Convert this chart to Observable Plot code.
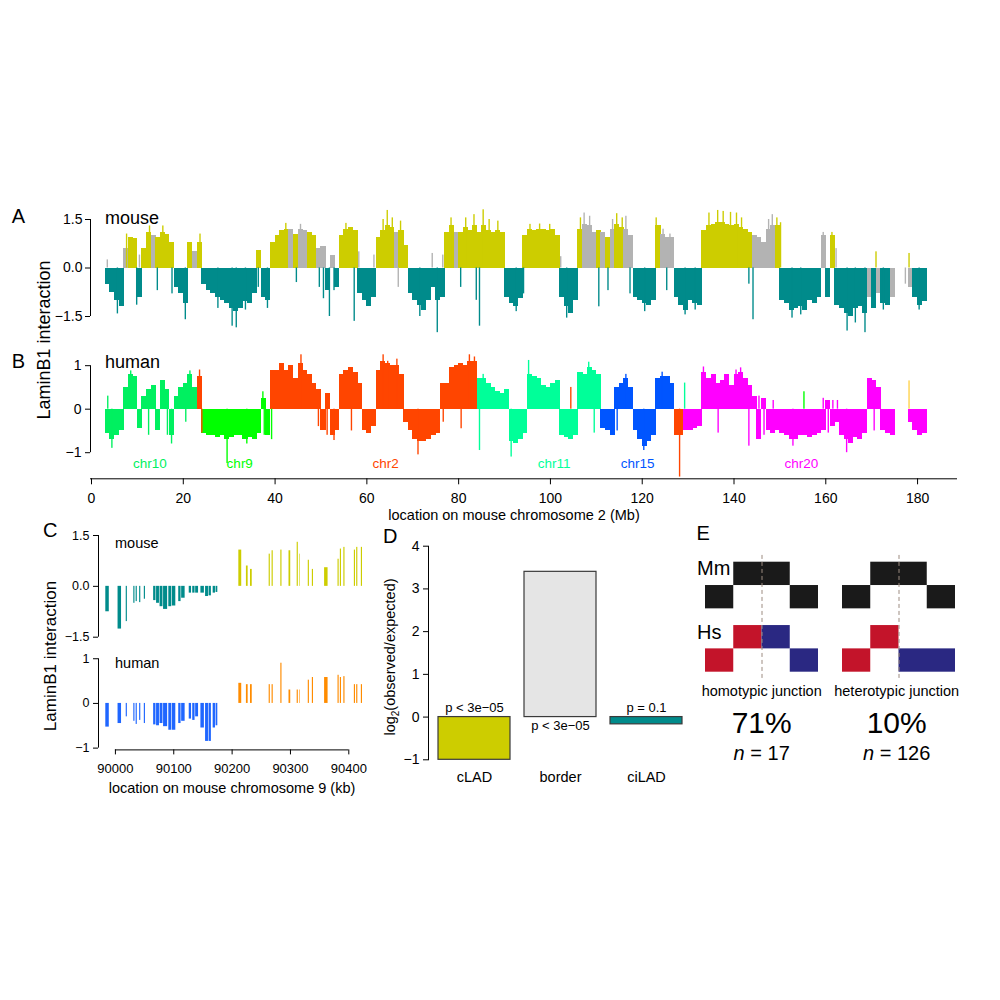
<!DOCTYPE html>
<html><head><meta charset="utf-8">
<script src="https://cdn.jsdelivr.net/npm/d3@7"></script>
<script src="https://cdn.jsdelivr.net/npm/@observablehq/plot@0.6"></script>
<style>
body{margin:0;background:#fff;}
#fig{position:relative;width:1000px;height:1000px;background:#fff;overflow:hidden}
#fig svg{position:absolute;background:transparent;overflow:visible}
</style></head><body><div id="fig"></div>
<script>
// ---------------- DATA ----------------
// Panel A/B: 1-Mb bins along mouse chr2 starting at 3 Mb
const binFirstMb = 3;
const mouseVal = [
 -0.5,-0.75,-1.0,-1.2,0.6,0.95,0.9,-0.9,0.6,1.1,
 1.0,0.95,1.1,1.05,0.8,-0.6,-0.8,-1.1,0.8,0.5,
 0.8,-0.5,-0.7,-0.8,-0.9,-1.0,-1.1,-1.25,-1.35,-1.25,
 -1.05,-1.1,-0.8,0.55,-0.9,-1.0,0.8,1.0,1.15,1.2,
 1.2,1.05,1.2,1.15,1.1,1.0,0.6,0.65,-0.7,0.4,
 -0.6,1.0,1.2,1.25,1.15,-0.8,-1.0,-1.2,-0.9,0.95,
 1.15,1.3,1.25,1.1,1.15,0.7,-0.8,-1.0,-1.15,-1.3,
 -1.0,-0.6,-1.0,-0.9,1.1,1.3,1.1,1.1,1.25,1.15,
 1.3,1.1,1.3,1.15,1.1,1.15,1.1,-0.9,-1.1,-1.2,
 -0.95,1.0,1.2,1.15,1.2,1.2,1.15,1.2,1.0,-0.9,
 -1.2,-1.4,-1.0,1.2,1.35,1.3,1.1,1.15,1.1,0.95,
 1.2,1.35,1.25,1.2,1.0,-0.9,-1.0,-1.1,-1.15,-1.0,
 1.3,1.05,0.95,0.95,-0.9,-1.15,-1.3,-1.0,-1.1,-1.15,
 1.15,1.3,1.35,1.4,1.4,1.35,1.3,1.35,1.25,1.2,
 1.1,1.0,0.95,0.8,1.2,1.3,1.3,-1.0,-1.1,-1.3,
 -1.25,-1.2,-1.3,-1.0,-1.1,-0.9,1.0,-0.9,1.0,-1.15,
 -1.25,-1.4,-1.5,-1.25,-1.2,-1.4,-0.9,-1.25,-0.8,-1.1,
 -1.15,-0.9,null,null,null,-0.6,-0.9,-1.15,-1.05
];
// c = constitutive LAD (yellow), f = facultative (grey), i = inter-LAD (teal)
const mouseCls = ("iiiifccicc"+"fcccciiicf"+"ciiiiiiiii"+"iiiciicccc"+"fcffccffif"+
 "icccciiiic"+"cccfcciiii"+"iiiiccfccc"+"ccccccciii"+"icccccccci"+"iiicfffcfc"+
 "fccffiiiii"+"cfffiiiiii"+"cccccccccc"+"cfffffciii"+"iiiiiifici"+"iiiiiififi"+"if---fiii").split("");
// narrow individual probes sticking out of the bins: [Mb, value, class]
const mouseSpikes = [
 [3.4,0.25,"f"],[5.6,-1.42,"i"],[7.6,1.05,"c"],[9.8,-1.15,"i"],[10.4,0.4,"f"],[12.6,1.3,"c"],[14.3,-0.7,"i"],[15.5,1.3,"c"],
 [17.5,-0.8,"i"],[20.4,-1.6,"i"],[23.6,1.05,"c"],[27.5,-1.25,"i"],[30.6,-1.8,"i"],[31.5,-1.85,"i"],[33.5,-1.3,"i"],[36.3,-0.6,"i"],
 [38.3,-1.25,"i"],[42.3,1.38,"c"],[44.6,-0.45,"i"],[45.5,1.35,"f"],[49.6,-0.6,"i"],[50.5,-0.95,"i"],[51.8,-1.5,"i"],[52.8,-0.7,"i"],
 [55.4,1.38,"c"],[57.2,-1.65,"i"],[58.2,0.5,"f"],[61.5,0.4,"f"],[63.5,1.5,"c"],[64.4,1.78,"c"],[65.5,1.55,"c"],[66.8,-0.6,"f"],
 [67.3,1.45,"c"],[71.5,-1.5,"i"],[74.2,0.45,"f"],[75.3,-2.0,"i"],[76.5,0.4,"f"],[78.3,1.55,"c"],[80.4,-0.6,"i"],[81.5,1.55,"c"],
 [83.3,1.65,"c"],[83.8,-1.0,"i"],[84.5,-1.8,"i"],[85.3,1.8,"c"],[86.6,1.5,"c"],[88.5,1.45,"c"],[92.5,-1.35,"i"],[94.1,-0.8,"i"],
 [95.5,1.35,"c"],[97.6,1.36,"c"],[99.8,1.35,"c"],[102.2,0.35,"f"],[103.5,-1.55,"i"],[106.5,1.55,"c"],[107.3,1.7,"f"],[108.5,1.6,"f"],
 [110.5,-1.2,"i"],[112.5,-0.7,"i"],[113.5,1.5,"f"],[114.4,1.68,"c"],[115.6,1.55,"c"],[116.4,1.6,"f"],[117.3,-0.8,"i"],[120.5,-1.35,"i"],
 [123.0,1.55,"c"],[124.5,1.2,"f"],[125.3,-0.7,"i"],[126.0,1.05,"f"],[129.3,-1.45,"i"],[131.5,-1.3,"i"],[134.5,1.7,"c"],[136.4,1.78,"c"],
 [137.6,1.75,"c"],[139.2,1.72,"c"],[140.5,1.7,"c"],[141.6,1.55,"c"],[143.2,-0.5,"i"],[144.1,-1.6,"i"],[147.5,1.5,"f"],[148.3,1.65,"f"],
 [149.3,1.55,"c"],[150.1,1.4,"c"],[152.6,-1.55,"i"],[154.5,-1.45,"i"],[159.4,1.1,"f"],[161.3,1.1,"c"],[162.2,0.6,"f"],[164.6,-1.95,"i"],
 [166.4,-1.7,"i"],[168.5,-2.0,"i"],[170.9,0.5,"c"],[172.5,-1.3,"i"],[177.3,-0.5,"f"],[178.1,0.45,"c"],[180.3,-1.3,"i"]
];

const humanVal = [
 -0.55,-0.7,-0.6,-0.5,0.5,0.8,0.75,-0.45,0.3,0.45,
 0.55,-0.5,0.65,0.45,-0.6,0.3,0.5,0.6,0.8,0.5,
 0.75,-0.55,-0.6,-0.6,-0.65,-0.6,-0.7,-0.65,-0.6,-0.6,
 -0.7,-0.65,-0.7,-0.55,0.25,-0.6,0.9,0.9,1.05,0.9,
 1.0,0.7,1.05,0.9,0.8,0.6,0.45,-0.5,0.35,-0.6,
 -0.5,0.8,0.9,0.95,0.85,0.6,-0.5,-0.55,-0.4,0.9,
 1.1,1.05,1.0,1.0,0.8,-0.3,-0.5,-0.7,-0.75,-0.75,
 -0.7,-0.6,-0.55,0.6,0.6,0.95,1.0,1.05,1.0,1.1,
 1.1,0.7,0.7,0.6,0.5,0.4,0.35,0.45,-0.75,-0.8,
 -0.7,-0.55,0.8,0.75,0.7,0.55,0.5,0.6,0.65,-0.6,
 -0.65,-0.7,-0.6,0.85,0.8,0.95,0.9,0.8,-0.45,-0.5,
 -0.6,0.5,0.6,0.7,0.5,-0.5,-0.7,-0.85,-0.75,-0.6,
 0.7,0.75,0.75,0.6,-0.6,-0.6,-0.5,-0.5,-0.45,-0.4,
 0.85,0.7,0.8,0.6,0.65,0.8,0.55,0.8,0.85,0.7,
 0.55,0.3,-0.7,0.25,-0.5,-0.55,-0.5,-0.55,-0.6,-0.7,
 -0.7,-0.6,-0.6,-0.65,-0.6,-0.55,-0.5,0.2,-0.4,-0.3,
 -0.6,-0.7,-0.8,-0.65,-0.7,-0.55,0.7,0.65,0.5,-0.5,
 -0.55,-0.6,null,null,null,-0.3,-0.5,-0.6,-0.55
];
// human chromosome of origin, as runs of mouse bins [firstMb, lastMb, chr]
const humanChrRuns = [[3,22,"chr10"],[23,23,"chr2"],[24,38,"chr9"],[39,83,"chr2"],[84,110,"chr11"],[111,126,"chr15"],[127,128,"chr2"],[129,181,"chr20"]];
const humanSpikes = [
 [3.5,0.3,"chr10"],[4.4,-0.9,"chr10"],[8.5,0.88,"chr10"],[12.4,-0.6,"chr10"],[16.5,-0.6,"chr10"],[17.4,-0.8,"chr10"],[20.5,-0.3,"chr10"],[21.4,0.88,"chr10"],
 [23.5,0.9,"chr2"],[24.0,-0.55,"chr2"],[29.5,-1.25,"chr9"],[33.8,-0.8,"chr9"],[37.3,0.4,"chr9"],[37.6,-0.6,"chr9"],[39.2,-0.7,"chr9"],[45.6,1.25,"chr2"],
 [49.4,-0.4,"chr2"],[51.3,-0.6,"chr2"],[52.8,-0.72,"chr2"],[56.6,-0.5,"chr2"],[63.5,1.25,"chr2"],[64.5,1.1,"chr2"],[66.5,1.15,"chr2"],[71.1,-1.05,"chr2"],
 [76.6,-0.3,"chr2"],[80.5,-0.45,"chr2"],[82.3,1.25,"chr2"],[83.4,1.2,"chr2"],[84.5,-0.95,"chr11"],[85.3,0.8,"chr11"],[91.4,-1.1,"chr11"],[95.2,1.12,"chr11"],
 [104.4,0.5,"chr2"],[108.3,1.08,"chr11"],[109.5,-0.55,"chr11"],[114.5,-0.5,"chr15"],[116.4,0.8,"chr15"],[120.3,-0.95,"chr15"],[124.3,0.85,"chr15"],[128.1,-1.56,"chr2"],
 [129.2,0.6,"chr11"],[133.3,0.97,"chr20"],[136.5,-0.55,"chr20"],[140.4,0.9,"chr20"],[141.4,0.95,"chr20"],[143.2,-0.85,"chr20"],[145.4,0.3,"chr20"],[146.5,-0.6,"chr20"],
 [148.5,0.2,"chr20"],[152.8,-0.85,"chr20"],[155.2,0.4,"chr9"],[159.4,0.25,"chr20"],[160.5,-0.55,"chr20"],[161.5,0.2,"chr20"],[162.5,0.2,"chr20"],[164.5,-1.0,"chr20"],
 [169.6,0.7,"chr20"],[170.5,-0.5,"chr20"],[178.1,0.65,"other"]
];
const chrLabelName = ["chr10","chr9","chr2","chr11","chr15","chr20"];
const chrLabelMb   = [12.7,32.3,64.1,100.8,119,154.7];
const genomeTicks = [0,20,40,60,80,100,120,140,160,180];
const yTicksA = [-1.5,0,1.5];
const yTicksB = [-1,0,1];

// Panel C: probes on mouse chr9 (kb)
const cStart = [89983,90004,90018,90031,90035,90041,90049,90065,90070,90076,90082,90091,90097,90108,90113,90126,90132,90137,90146,90154,90160,90167,90172,90211,90224,90231,90263,90268,90283,90297,90311,90315,90330,90337,90358,90381,90385,90391,90409,90413,90421];
const cEnd   = [89990,90011,90021,90034,90038,90044,90052,90070,90076,90082,90090,90097,90104,90113,90120,90131,90137,90143,90153,90160,90165,90172,90176,90217,90228,90235,90266,90271,90286,90301,90314,90317,90333,90340,90365,90384,90388,90394,90412,90416,90424];
const cMouse = [-0.75,-1.26,-1.04,-0.5,-0.45,-0.48,-0.38,-0.42,-0.5,-0.6,-0.68,-0.6,-0.58,-0.45,-0.35,-0.2,-0.2,-0.2,-0.2,-0.3,-0.28,-0.2,-0.18,1.07,0.6,0.5,0.95,1.05,1.07,1.05,1.3,0.95,0.77,0.5,0.55,0.8,1.1,1.15,1.07,1.15,1.15];
const cHuman = [-0.53,-0.45,-0.3,-0.4,-0.47,-0.38,-0.45,-0.48,-0.5,-0.45,-0.52,-0.6,-0.6,-0.45,-0.4,-0.35,-0.38,-0.3,-0.55,-0.85,-0.85,-0.55,-0.5,0.45,0.42,0.42,0.42,0.42,0.9,0.3,0.3,0.3,0.52,0.58,0.58,0.63,0.58,0.6,0.42,0.42,0.42];
const cTicks = [90000,90100,90200,90300,90400];

// Panel D
const dCats = ["cLAD","border","ciLAD"];
const dVals = [-1.0, 3.4, -0.17];
const dPvals = ["p < 3e\u221205","p < 3e\u221205","p = 0.1"];
const dTicks = [-1,0,1,2,3,4];

// Panel E
const eJunction = ["homotypic","heterotypic"];
const ePercent = ["71%","10%"];
const eN = [17,126];
const eCellDiagram = ["homotypic","homotypic","homotypic","homotypic","homotypic","homotypic","homotypic","heterotypic","heterotypic","heterotypic","heterotypic","heterotypic","heterotypic"];
const eCellSpecies = ["Mm","Mm","Mm","Hs","Hs","Hs","Hs","Mm","Mm","Mm","Hs","Hs","Hs"];
const eCellRow     = [0,1,1,0,0,1,1,0,1,1,0,1,1];
const eCellFrom    = [1,0,3,1,2,0,3,1,0,3,1,0,2];
const eCellTo      = [3,1,4,2,3,1,4,3,1,4,2,1,4];
const eCellState   = ["lad","lad","lad","A","B","A","B","lad","lad","lad","A","A","B"];
const eJunctionCol = [2,2];

// ---------------- STYLE ----------------
const FONT = '"Liberation Sans", Arial, Helvetica, sans-serif';
const baseStyle = {fontFamily: FONT, fontSize: "14px", background: "transparent", overflow: "visible", color: "#000"};
const mouseColor = {c: "#cdcd00", f: "#b3b3b3", i: "#008b8b"};
const chrColor = {chr10: "#00f060", chr9: "#00ff00", chr2: "#ff4500", chr11: "#00ff99", chr15: "#0055ff", chr20: "#ff00ff", other: "#ffd24d"};
const dColor = {cLAD: "#cdcd00", border: "#e5e5e5", ciLAD: "#008b8b"};
const eColor = {lad: "#1a1a1a", A: "#c3142a", B: "#2a2882"};
const fmt1 = d => (d < 0 ? "\u2212" : "") + Math.abs(d).toFixed(1);
const fmt0 = d => (d < 0 ? "\u2212" : "") + Math.abs(d).toFixed(0);

const fig = document.getElementById("fig");
function place(el, left, top){ el.style.position = "absolute"; el.style.left = left + "px"; el.style.top = top + "px"; fig.appendChild(el); }

// ---------------- DERIVED TABLES ----------------
const chrOfMb = mb => { for (const [a,b,c] of humanChrRuns) if (mb >= a && mb <= b) return c; return "other"; };
const mouseBins = mouseVal.map((v,i) => ({mb: binFirstMb + i, v, cls: mouseCls[i]})).filter(d => d.v != null);
const mouseSpk = mouseSpikes.map(([mb,v,cls]) => ({mb, v, cls}));
const humanBins = humanVal.map((v,i) => ({mb: binFirstMb + i, v, chr: chrOfMb(binFirstMb + i)})).filter(d => d.v != null);
const humanSpk = humanSpikes.map(([mb,v,chr]) => ({mb, v, chr}));
const chrLabels = chrLabelName.map((name,i) => ({name, mb: chrLabelMb[i]}));
const cBars = cStart.map((s,i) => ({s, e: cEnd[i], m: cMouse[i], h: cHuman[i]}));
const dData = dCats.map((cat,i) => ({cat, v: dVals[i], p: dPvals[i]}));
const eCells = eCellDiagram.map((diagram,i) => ({diagram, sp: eCellSpecies[i], row: eCellRow[i], c0: eCellFrom[i], c1: eCellTo[i], state: eCellState[i]}));
const eJ = eJunction.map((diagram,i) => ({diagram, col: eJunctionCol[i]}));

// ---------------- PANEL A ----------------
const xGenome = {domain: [-0.22, 188.7], range: [90, 957]};
const plotA = Plot.plot({
  width: 1000, height: 150, marginLeft: 90, marginRight: 43, marginTop: 24, marginBottom: 29,
  style: baseStyle,
  x: {...xGenome, axis: null, label: null},
  y: {domain: [-1.5, 1.5], label: null},
  color: {type: "identity"},
  marks: [
    Plot.rectY(mouseBins, {x1: "mb", x2: d => d.mb + 1.1, y: "v", fill: d => mouseColor[d.cls], shapeRendering: "crispEdges"}),
    Plot.rectY(mouseSpk, {x1: "mb", x2: d => d.mb + 0.3, y: "v", fill: d => mouseColor[d.cls]}),
    Plot.ruleX([xGenome.domain[0]], {y1: yTicksA[0], y2: yTicksA[yTicksA.length-1], stroke: "#000"}),
    Plot.axisY({ticks: yTicksA, tickFormat: fmt1, tickSize: 5, tickPadding: 3, fontSize: 14, label: null})
  ]
});
place(plotA, 0, 195);

// ---------------- PANEL B ----------------
const yB = {domain: [-1.6, 1.45]};
const plotB = Plot.plot({
  width: 1000, height: 185, marginLeft: 90, marginRight: 43, marginTop: 0.6, marginBottom: 51.7,
  style: baseStyle,
  x: {...xGenome, label: null},
  y: {...yB, label: null},
  color: {type: "identity"},
  marks: [
    Plot.rectY(humanBins, {x1: "mb", x2: d => d.mb + 1.1, y: "v", fill: d => chrColor[d.chr], shapeRendering: "crispEdges"}),
    Plot.rectY(humanSpk, {x1: "mb", x2: d => d.mb + 0.3, y: "v", fill: d => chrColor[d.chr]}),
    Plot.text(chrLabels, {x: "mb", y: -1.255, text: "name", fill: d => chrColor[d.name], fontSize: 13.5}),
    Plot.ruleX([xGenome.domain[0]], {y1: yTicksB[0], y2: yTicksB[yTicksB.length-1], stroke: "#000"}),
    Plot.ruleY([yB.domain[0]], {stroke: "#000"}),
    Plot.axisY({ticks: yTicksB, tickFormat: fmt0, tickSize: 5, tickPadding: 4, fontSize: 14, label: null}),
    Plot.axisX({ticks: genomeTicks, tickFormat: fmt0, tickSize: 6, tickPadding: 8, fontSize: 14, label: null})
  ]
});
place(plotB, 0, 345);

// ---------------- PANEL C ----------------
const xC = {domain: [89971, 90400], range: [98, 348.3]};
const plotCm = Plot.plot({
  width: 400, height: 125, marginLeft: 98, marginRight: 30, marginTop: 15, marginBottom: 8.3,
  style: baseStyle,
  x: {...xC, axis: null, label: null},
  y: {domain: [-1.5, 1.5], label: null},
  color: {type: "identity"},
  marks: [
    Plot.rectY(cBars, {x1: "s", x2: "e", y: "m", fill: d => d.m < 0 ? "#008b8b" : "#cdcd00", insetLeft: 0.3, insetRight: 0.3}),
    Plot.ruleX([xC.domain[0]], {y1: -1.5, y2: 1.5, stroke: "#000"}),
    Plot.axisY({ticks: yTicksA, tickFormat: fmt1, tickSize: 5, tickPadding: 4, fontSize: 12.5, label: null})
  ]
});
place(plotCm, 0, 520);
const yCh = {domain: [-1.04, 1.2]};
const plotCh = Plot.plot({
  width: 400, height: 150, marginLeft: 98, marginRight: 30, marginTop: 4.3, marginBottom: 45.6,
  style: baseStyle,
  x: {...xC, label: null},
  y: {...yCh, label: null},
  color: {type: "identity"},
  marks: [
    Plot.rectY(cBars, {x1: "s", x2: "e", y: "h", fill: d => d.h < 0 ? "#1f66ff" : "#ff8c00", insetLeft: 0.3, insetRight: 0.3}),
    Plot.ruleX([xC.domain[0]], {y1: -1, y2: 1, stroke: "#000"}),
    Plot.ruleY([yCh.domain[0]], {x1: cTicks[0], x2: cTicks[cTicks.length-1], stroke: "#000"}),
    Plot.axisY({ticks: yTicksB, tickFormat: fmt0, tickSize: 5, tickPadding: 4, fontSize: 12.5, label: null}),
    Plot.axisX({ticks: cTicks, tickFormat: d3.format("d"), tickSize: 5, tickPadding: 9, fontSize: 13, label: null})
  ]
});
place(plotCh, 0, 645);

// ---------------- PANEL D ----------------
const plotD = Plot.plot({
  width: 720, height: 270, marginLeft: 428, marginRight: 20, marginTop: 25.7, marginBottom: 30.7,
  style: baseStyle,
  x: {type: "band", domain: dCats, range: [428, 691], paddingInner: 0.166, paddingOuter: 0.1, label: null},
  y: {domain: [-1, 4], label: null},
  color: {type: "identity"},
  marks: [
    Plot.barY(dData, {x: "cat", y: "v", fill: d => dColor[d.cat], stroke: "#3a3a3a", strokeWidth: 1.2}),
    Plot.text(dData.filter(d => d.v < 0), {x: "cat", y: 0, text: "p", dy: -9, fontSize: 13}),
    Plot.text(dData.filter(d => d.v >= 0), {x: "cat", y: 0, text: "p", dy: 9, fontSize: 13}),
    Plot.frame({anchor: "left"}),
    Plot.axisY({ticks: dTicks, tickFormat: fmt0, tickSize: 5, tickPadding: 4, fontSize: 14, label: null}),
    Plot.axisX({tickSize: 0, tickPadding: 12, fontSize: 14.5, label: null})
  ]
});
place(plotD, 0, 520);

// ---------------- PANEL E ----------------
const HS_OFFSET = 2.716;
const yRow = d => (d.sp === "Hs" ? HS_OFFSET : 0) + d.row;
const plotE = Plot.plot({
  width: 250, height: 135, marginLeft: 0, marginRight: 0, marginTop: 11.7, marginBottom: 13.3,
  style: baseStyle,
  fx: {domain: eJunction, paddingInner: 0.1756, paddingOuter: 0, axis: null, label: null},
  x: {domain: [0, 4], axis: null, label: null},
  y: {domain: [0, 4.716], reverse: true, axis: null, label: null},
  color: {type: "identity"},
  marks: [
    Plot.rect(eCells, {fx: "diagram", x1: "c0", x2: "c1", y1: d => yRow(d), y2: d => yRow(d) + 1, fill: d => eColor[d.state]}),
    Plot.ruleX(eJ, {fx: "diagram", x: "col", y1: -0.29, y2: 4.99, stroke: "#9c8b80", strokeWidth: 1, strokeDasharray: "4,3"})
  ]
});
place(plotE, 705, 550);

// ---------------- TEXT OVERLAY ----------------
const ov = d3.create("svg").attr("width", 1000).attr("height", 1000)
  .style("left","0px").style("top","0px").style("pointer-events","none")
  .attr("font-family", FONT).attr("fill", "#000");
function txt(s, x, y, size, anchor = "start", rot = 0){
  const t = ov.append("text").attr("font-size", size).attr("text-anchor", anchor)
    .attr("transform", `translate(${x},${y}) rotate(${rot})`);
  t.text(s); return t;
}
txt("A", 11.7, 223, 20); txt("B", 11.7, 368, 20);
txt("C", 43, 536.5, 20); txt("D", 383, 543, 20); txt("E", 696.5, 540, 20);
txt("mouse", 105, 224.3, 18); txt("human", 105, 367.7, 18);
txt("LaminB1 interaction", 50, 340, 18, "middle", -90);
txt("location on mouse chromosome 2 (Mb)", 514, 519.5, 14.5, "middle");
txt("mouse", 115, 548.3, 14.5); txt("human", 115, 667.7, 14.5);
txt("LaminB1 interaction", 56, 656, 17, "middle", -90);
txt("location on mouse chromosome 9 (kb)", 232, 793, 14.5, "middle");
const lg = ov.append("text").attr("font-size", 14.5).attr("text-anchor","middle").attr("transform","translate(395,657) rotate(-90)");
lg.append("tspan").text("log");
lg.append("tspan").attr("font-size", 10).attr("dy", 4).text("2");
lg.append("tspan").attr("dy", -4).text("(observed/expected)");
txt("Mm", 697, 575, 20); txt("Hs", 697, 639, 20);
const eCenters = [761.7, 896.7];
eJunction.forEach((j,i) => {
  txt(j + " junction", eCenters[i], 695.7, 14.5, "middle");
  txt(ePercent[i], eCenters[i], 733.3, 30, "middle");
  const n = ov.append("text").attr("font-size", 20).attr("text-anchor","middle").attr("transform",`translate(${eCenters[i]},760)`);
  n.append("tspan").attr("font-style","italic").text("n");
  n.append("tspan").text(" = " + eN[i]);
});
fig.appendChild(ov.node());
</script></body></html>
